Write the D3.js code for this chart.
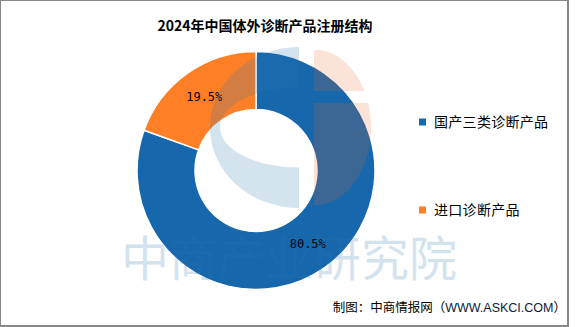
<!DOCTYPE html>
<html><head><meta charset="utf-8">
<script src="https://cdn.jsdelivr.net/npm/d3@7"></script>
<style>
html,body{margin:0;padding:0;background:#fff;}
svg{display:block;}
</style></head>
<body>
<script>
const title = "2024年中国体外诊断产品注册结构";
const categories = ["国产三类诊断产品", "进口诊断产品"];
const values = [80.5, 19.5];
const colors = ["#1767AD", "#FF7F27"];
const sourceParts = ["制图：中商情报网（", "WWW.ASKCI.COM", "）"];
const watermark = "中商产业研究院";

const W = 581, H = 327;
const svg = d3.select("body").append("svg").attr("width", W).attr("height", H);

// frame
svg.append("rect").attr("x",0).attr("y",0).attr("width",W).attr("height",H).attr("fill","#fff");
svg.append("line").attr("x1",0.5).attr("y1",0).attr("x2",0.5).attr("y2",326).attr("stroke","#888").attr("stroke-width",1);
svg.append("line").attr("x1",0).attr("y1",0.5).attr("x2",568).attr("y2",0.5).attr("stroke","#888").attr("stroke-width",1);
svg.append("line").attr("x1",568).attr("y1",0).attr("x2",568).attr("y2",327).attr("stroke","#888").attr("stroke-width",2);
svg.append("line").attr("x1",0).attr("y1",326).attr("x2",569).attr("y2",326).attr("stroke","#888").attr("stroke-width",2);

// title
svg.append("text").attr("x",265).attr("y",31).attr("text-anchor","middle")
  .attr("font-family","'Noto Sans CJK SC', sans-serif").attr("font-weight","bold")
  .attr("font-size",14).attr("fill","#000").text(title);

// donut
const cx = 256, cy = 170.5, rOuter = 119, rInner = 61;
const pie = d3.pie().sort(null).value(d => d)(values);
const arc = d3.arc().innerRadius(rInner).outerRadius(rOuter);
const g = svg.append("g").attr("transform", `translate(${cx},${cy})`);
g.selectAll("path").data(pie).enter().append("path")
  .attr("d", arc).attr("fill", (d,i) => colors[i])
  .attr("stroke","#fff").attr("stroke-width",1.5);

// watermark logo
const wm = svg.append("g").attr("pointer-events","none");
const lcx = 299, lcy = 127.5;
const crescent = `M${lcx},${lcy-80.5} A89,80.5 0 0 0 ${lcx},${lcy+80.5} L${lcx},${lcy+40} A79,40 0 0 1 ${lcx},${lcy-40} Z`;
wm.append("path").attr("d", crescent).attr("fill","#2878AF").attr("opacity",0.2);
const ocx = 314, ocy = 127.5, orx = 57, ory = 78;
function halfEllipseBand(y0, y1){
  let d = `M${ocx},${y0}`;
  for (let y = y0; y <= y1; y += 1) {
    const t = (y-ocy)/ory;
    const x = ocx + orx*Math.sqrt(Math.max(0, 1-t*t));
    d += ` L${x.toFixed(1)},${y}`;
  }
  d += ` L${ocx},${y1} Z`;
  return d;
}
wm.append("path").attr("d", halfEllipseBand(50, 91)).attr("fill","#E96428").attr("opacity",0.18);
wm.append("path").attr("d", halfEllipseBand(103, 205)).attr("fill","#E96428").attr("opacity",0.18);
wm.append("text").attr("x",289).attr("y",276).attr("text-anchor","middle")
  .attr("font-family","'Noto Sans CJK SC', sans-serif").attr("font-size",48)
  .attr("fill","#2878AF").attr("opacity",0.2).text(watermark);

// labels
g.selectAll("text.lbl").data(pie).enter().append("text").attr("class","lbl")
  .attr("transform", d => `translate(${arc.centroid(d)})`)
  .attr("text-anchor","middle").attr("dy","0.35em")
  .attr("font-family","'DejaVu Sans Mono', monospace").attr("font-size",12)
  .attr("fill","#000").text(d => d.data.toFixed(1) + "%");

// legend
const legY = [122, 210];
categories.forEach((c,i) => {
  svg.append("rect").attr("x",419).attr("y",legY[i]-3.5).attr("width",7).attr("height",7).attr("fill",colors[i]);
  svg.append("text").attr("x",434).attr("y",legY[i]).attr("dy","0.35em")
    .attr("font-family","'Noto Sans CJK SC', sans-serif").attr("font-size",14)
    .attr("letter-spacing",0.3).attr("fill","#000").text(c);
});

// source
const src = svg.append("text").attr("x",566).attr("y",312).attr("text-anchor","end")
  .attr("font-family","'Noto Sans CJK SC', sans-serif").attr("font-size",12.5).attr("fill","#000");
src.append("tspan").text(sourceParts[0]);
src.append("tspan").attr("font-family","'Liberation Sans', Arial, sans-serif").attr("fill","#0d1b3a").text(sourceParts[1]);
src.append("tspan").text(sourceParts[2]);
</script>
</body></html>
